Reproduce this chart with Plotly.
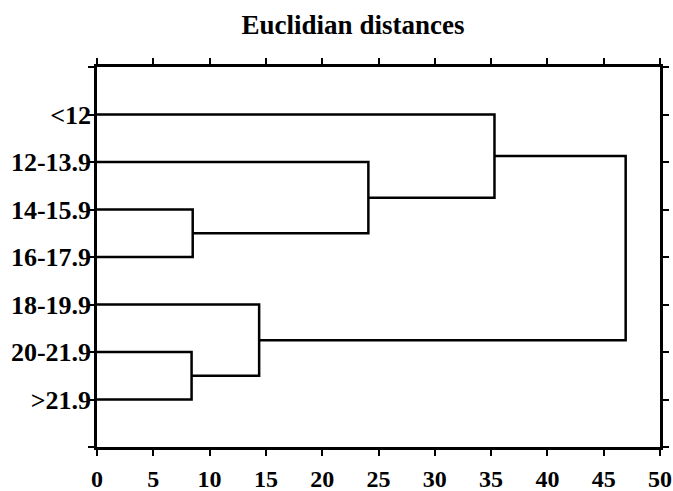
import plotly.graph_objects as go

# Leaf labels (top to bottom)
labels = ["<12", "12-13.9", "14-15.9", "16-17.9", "18-19.9", "20-21.9", ">21.9"]

# Linkage (scipy-style: 0..6 leaves, 7+ merged clusters)
merge_a = [2, 5, 4, 1, 0, 11]
merge_b = [3, 6, 8, 7, 10, 9]
merge_height = [8.5, 8.4, 14.4, 24.1, 35.3, 46.95]

x_ticks = [0, 5, 10, 15, 20, 25, 30, 35, 40, 45, 50]

n = len(labels)
pos = {i: float(i) for i in range(n)}
hgt = {i: 0.0 for i in range(n)}
xs, ys = [], []
for k, (a, b, h) in enumerate(zip(merge_a, merge_b, merge_height)):
    cid = n + k
    xs += [hgt[a], h, h, hgt[b], None]
    ys += [pos[a], pos[a], pos[b], pos[b], None]
    pos[cid] = (pos[a] + pos[b]) / 2
    hgt[cid] = h

FONT = "Liberation Serif"

fig = go.Figure()
fig.add_trace(go.Scatter(x=xs, y=ys, mode="lines",
                         line=dict(color="black", width=2.5),
                         hoverinfo="skip", showlegend=False))

fig.update_layout(
    width=673, height=491,
    margin=dict(l=97, r=13, t=67, b=44, autoexpand=False),
    paper_bgcolor="white", plot_bgcolor="white",
    font=dict(family=FONT, color="black"),
    title=dict(text="<b>Euclidian distances</b>",
               font=dict(family=FONT, size=27, color="black"),
               xref="container", x=353/673, xanchor="center",
               yref="container", y=1 - 25/491, yanchor="middle"),
    showlegend=False,
)

fig.update_xaxes(
    range=[0, 50], tickvals=x_ticks, ticktext=[f"<b>{v}</b>" for v in x_ticks],
    tickfont=dict(family=FONT, size=24, color="black"),
    showline=True, linecolor="black", linewidth=2.5, mirror="allticks",
    ticks="outside", ticklen=6, tickwidth=2, tickcolor="black",
    showgrid=False, zeroline=False, ticklabelstandoff=2, automargin=False,
)

ytv = list(range(-1, n + 1))
ytt = [""] + [f"<b>{l}</b>" for l in labels] + [""]
fig.update_yaxes(
    range=[n, -1], tickvals=ytv, ticktext=ytt,
    tickfont=dict(family=FONT, size=26, color="black"),
    showline=True, linecolor="black", linewidth=2.5, mirror="allticks",
    ticks="outside", ticklen=6, tickwidth=2, tickcolor="black",
    showgrid=False, zeroline=False, ticklabelstandoff=-8, automargin=False,
)

fig.write_html("out.html", config={"displayModeBar": False},
               post_script="document.body.style.margin='0';document.body.style.padding='0';")
